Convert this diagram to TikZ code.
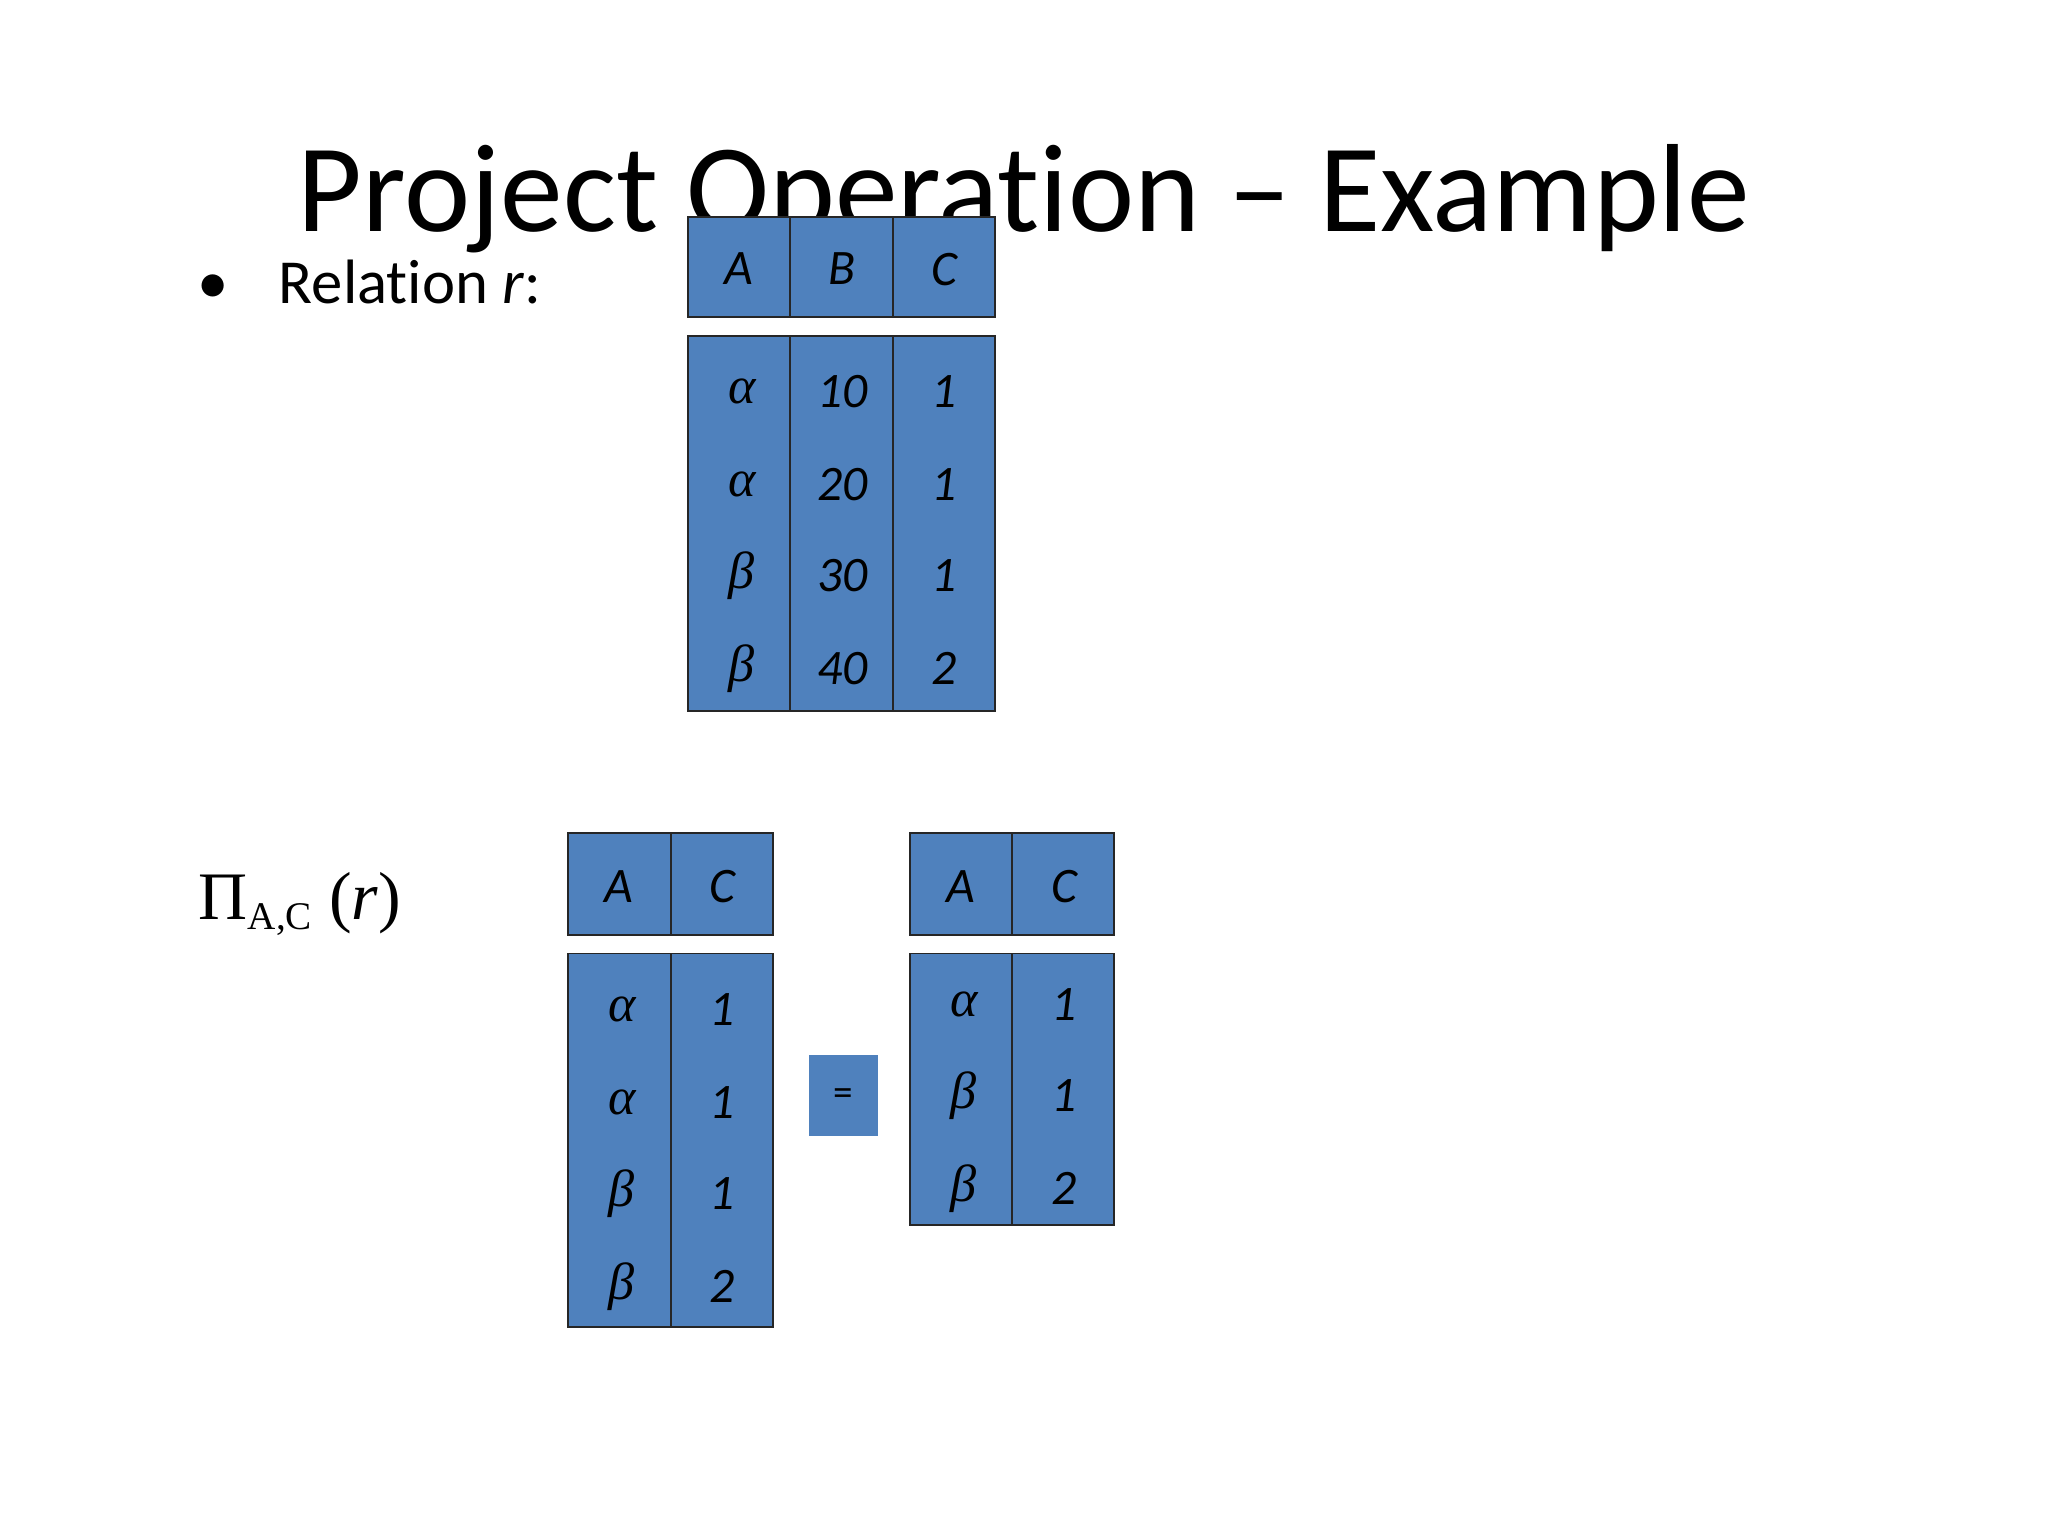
\documentclass[tikz,border=0pt]{standalone}
\usepackage{fontspec}
\setmainfont[Ligatures={NoCommon,NoRare,NoDiscretionary}]{Carlito}
\newfontfamily\tms{Liberation Serif}
\begin{document}
\begin{tikzpicture}[x=1pt,y=-1pt,
 cell/.style={draw=black!85,line width=1.5pt,fill=blue1,minimum height=0pt},
 ct/.style={font=\fontsize{38}{38}\selectfont\itshape},
 gk/.style={font=\tms\fontsize{40}{40}\selectfont\itshape}]
\definecolor{blue1}{HTML}{4F81BD}
\useasboundingbox (0,0) rectangle (1568,1176);
\fill[white] (0,0) rectangle (1568,1176);
\node[font=\fontsize{96}{96}\selectfont,anchor=base] (title) at (784,177) {Project Operation – Example};
\node[font=\fontsize{48}{48}\selectfont,anchor=base west] (bul) at (148,232) {•};
\node[font=\fontsize{48}{48}\selectfont,anchor=base west] (rel) at (210,232) {Relation \textit{r}:};
\node[font=\tms\fontsize{52}{52}\selectfont,anchor=base west,inner sep=0pt] (pi) at (152,704) {Π\raisebox{-8pt}{\fontsize{30}{30}\selectfont A,C} (\textit{r})};
% top relation
\foreach \a/\b in {527/605,605/684,684/762}{
 \draw[cell] (\a,166) rectangle (\b,243);
 \draw[cell] (\a,257) rectangle (\b,544);}
\foreach \x/\t in {566/A,645/B,723/C} \node[ct] (h\t) at (\x,206) {\t};
\foreach \y/\g/\n/\c in {300/α/10/1,371/α/20/1,441/β/30/1,512/β/40/2}{
 \node[gk] at (568,\y) {\g};
 \node[ct] at (645,\y) {\n};
 \node[ct] at (723,\y) {\c};}
% left result
\foreach \a/\b in {435/514,514/592}{
 \draw[cell] (\a,638) rectangle (\b,716);
 \draw[cell] (\a,730) rectangle (\b,1016);}
\node[ct] (lA) at (474,679) {A};
\node[ct] (lC) at (553,679) {C};
\foreach \y/\g/\c in {773/α/1,844/α/1,914/β/1,985/β/2}{
 \node[gk] at (476,\y) {\g};
 \node[ct] at (553,\y) {\c};}
% equals
\fill[blue1] (619,808) rectangle (672,870);
\node[font=\fontsize{30}{30}\selectfont] (eq) at (645.5,840) {=};
% right result
\foreach \a/\b in {697/775,775/853}{
 \draw[cell] (\a,638) rectangle (\b,716);
 \draw[cell] (\a,730) rectangle (\b,938);}
\node[ct] (rA) at (736,679) {A};
\node[ct] (rC) at (815,679) {C};
\foreach \y/\g/\c in {769/α/1,839/β/1,910/β/2}{
 \node[gk] at (738,\y) {\g};
 \node[ct] at (815,\y) {\c};}
\end{tikzpicture}
\end{document}
